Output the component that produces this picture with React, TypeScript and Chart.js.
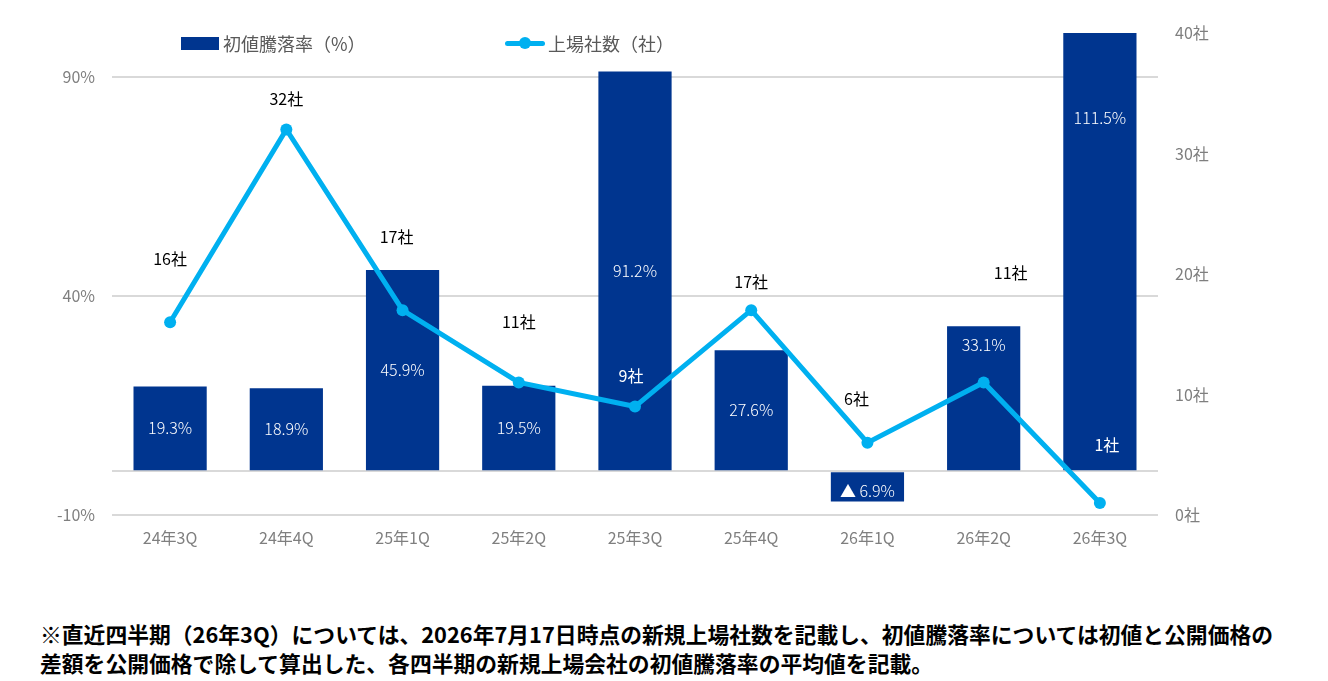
import { useEffect, useRef } from 'react';
import { Chart, registerables } from 'chart.js';
import type { Plugin } from 'chart.js';

Chart.register(...registerables);

const FONT = '"Noto Sans CJK JP", "Noto Sans", sans-serif';
const NAVY = '#00358f';
const SKY  = '#00b0f0';

// data
const quarters    = ['24年3Q', '24年4Q', '25年1Q', '25年2Q', '25年3Q', '25年4Q', '26年1Q', '26年2Q', '26年3Q'];
const returnRates = [19.3, 18.9, 45.9, 19.5, 91.2, 27.6, -6.9, 33.1, 111.5];
const listings    = [16, 32, 17, 11, 9, 17, 6, 11, 1];
const rateTicks   = [-10, 40, 90];
const rateGrid    = [-10, 0, 40, 90];
const countTicks  = [0, 10, 20, 30, 40];

// label nudges (pixels), style only
const barLabelShift: number[] = [0, 0, 0, 0, 0, 0, 4, -53, -134];
const countLabelShift: [number, number][] = [
  [0, -63], [0, -30], [-6, -73], [0, -61], [-4, -31],
  [0, -28], [-11, -44], [27, -110], [7, -58],
];
const countLabelLight = [false, false, false, false, true, false, false, false, true];

const fmtRate = (v: number) => (v < 0 ? `▲ ${Math.abs(v).toFixed(1)}%` : `${v.toFixed(1)}%`);

const valueLabels: Plugin<'bar'> = {
  id: 'valueLabels',
  afterDatasetsDraw(chart) {
    const { ctx, chartArea } = chart;
    ctx.save();
    ctx.font = `300 16px ${FONT}`;
    ctx.textAlign = 'center';
    ctx.textBaseline = 'middle';

    const bars = chart.getDatasetMeta(0).data as any[];
    bars.forEach((el, i) => {
      const top  = Math.max(Math.min(el.y, el.base), chartArea.top);
      const bot  = Math.max(el.y, el.base);
      ctx.fillStyle = '#ffffff';
      ctx.fillText(fmtRate(returnRates[i]), el.x, (top + bot) / 2 + barLabelShift[i]);
    });

    const pts = chart.getDatasetMeta(1).data as any[];
    ctx.font = `16px ${FONT}`;
    pts.forEach((el, i) => {
      const [dx, dy] = countLabelShift[i];
      ctx.fillStyle = countLabelLight[i] ? '#ffffff' : '#000000';
      ctx.fillText(`${listings[i]}社`, el.x + dx, el.y + dy);
    });
    ctx.restore();
  },
};

export default function App() {
  const canvasRef = useRef<HTMLCanvasElement>(null);

  useEffect(() => {
    if (!canvasRef.current) return;
    const chart = new Chart(canvasRef.current, {
      type: 'bar',
      data: {
        labels: quarters,
        datasets: [
          {
            type: 'bar',
            label: '初値騰落率（%）',
            data: returnRates,
            backgroundColor: NAVY,
            yAxisID: 'y',
            barPercentage: 0.63,
            categoryPercentage: 1,
            order: 2,
          },
          {
            type: 'line',
            label: '上場社数（社）',
            data: listings,
            borderColor: SKY,
            backgroundColor: SKY,
            borderWidth: 5,
            pointRadius: 6,
            pointBorderWidth: 0,
            tension: 0,
            yAxisID: 'y2',
            order: 1,
          } as any,
        ],
      },
      options: {
        responsive: true,
        maintainAspectRatio: false,
        animation: false,
        layout: { padding: { left: 0, right: 0, top: 33, bottom: 0 } },
        plugins: { legend: { display: false }, tooltip: { enabled: false } },
        scales: {
          x: {
            grid: { display: false },
            border: { display: false },
            ticks: { color: '#7f7f7f', font: { family: FONT, size: 16 }, padding: 5 },
            afterFit: s => { s.height = 45; },
          },
          y: {
            position: 'left',
            min: -10,
            max: 100,
            afterBuildTicks: s => { s.ticks = rateGrid.concat([100]).map(v => ({ value: v })); },
            ticks: {
              autoSkip: false,
              color: '#7f7f7f',
              font: { family: FONT, size: 16 },
              padding: 17,
              callback: v => (rateTicks.includes(v as number) ? `${v}%` : ''),
            },
            grid: {
              drawTicks: false,
              lineWidth: 2,
              color: c => (c.tick && rateGrid.includes(c.tick.value) ? '#d9d9d9' : 'rgba(0,0,0,0)'),
            },
            border: { display: false },
            afterFit: s => { s.width = 112; },
          },
          y2: {
            position: 'right',
            min: 0,
            max: 40,
            afterBuildTicks: s => { s.ticks = countTicks.map(v => ({ value: v })); },
            ticks: {
              color: '#7f7f7f',
              font: { family: FONT, size: 16 },
              padding: 9,
              callback: v => `${v}社`,
            },
            grid: { display: false },
            border: { display: false },
            afterFit: s => { s.width = 170; },
          },
        },
      },
      plugins: [valueLabels],
    });
    return () => chart.destroy();
  }, []);

  return (
    <div style={{ position: 'fixed', left: 0, top: 0, width: 1328, height: 681, background: '#fff', fontFamily: FONT }}>
      <div style={{ position: 'absolute', left: 0, top: 0, width: 1328, height: 560 }}>
        <canvas ref={canvasRef} />
      </div>

      {/* legend */}
      <div style={{ position: 'absolute', left: 181, top: 30, display: 'flex', alignItems: 'center', fontSize: 18, color: '#595959' }}>
        <span style={{ display: 'inline-block', width: 38, height: 13, background: NAVY, marginRight: 4 }} />
        初値騰落率（%）
      </div>
      <div style={{ position: 'absolute', left: 505, top: 30, display: 'flex', alignItems: 'center', fontSize: 18, color: '#595959' }}>
        <span style={{ position: 'relative', display: 'inline-block', width: 40, height: 26, marginRight: 3 }}>
          <span style={{ position: 'absolute', left: 0, top: 11, width: 40, height: 5, borderRadius: 3, background: SKY }} />
          <span style={{ position: 'absolute', left: 14, top: 7, width: 12, height: 12, borderRadius: 6, background: SKY }} />
        </span>
        上場社数（社）
      </div>

      {/* footnote */}
      <div style={{ position: 'absolute', left: 40, top: 619, fontSize: 21.8, fontWeight: 700, color: '#000', lineHeight: '29px', whiteSpace: 'nowrap' }}>
        <div>※直近四半期（26年3Q）については、2026年7月17日時点の新規上場社数を記載し、初値騰落率については初値と公開価格の</div>
        <div>差額を公開価格で除して算出した、各四半期の新規上場会社の初値騰落率の平均値を記載。</div>
      </div>
    </div>
  );
}
